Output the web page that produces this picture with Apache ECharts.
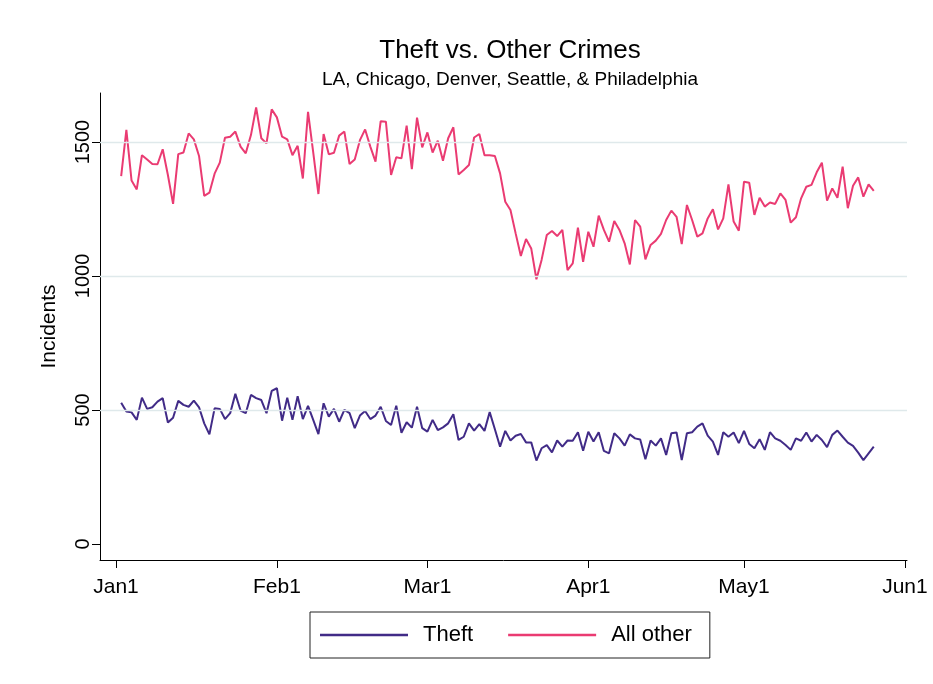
<!DOCTYPE html>
<html>
<head>
<meta charset="utf-8">
<script src="https://cdn.jsdelivr.net/npm/echarts@6/dist/echarts.min.js"></script>
<style>
html,body{margin:0;padding:0;background:#fff;}
#chart{width:933px;height:684px;}
</style>
</head>
<body>
<div id="chart"></div>
<script>
// First data point is Jan 2 (day 1, counting Jan 1 as day 0), daily through May 26
var startDay = 1;
var theft = [527,494,491,463,546,504,510,531,544,453,471,534,519,512,535,510,450,409,506,504,
466,488,560,498,488,556,544,537,488,571,581,460,546,463,551,466,515,463,410,525,
475,504,456,500,488,432,479,496,466,479,512,459,444,516,415,454,434,512,432,419,
463,425,435,450,484,388,400,450,423,447,422,492,428,363,422,386,404,410,379,379,
311,357,369,342,386,363,386,385,417,348,419,382,417,347,338,413,394,367,409,394,
390,316,386,367,394,332,413,416,313,413,417,438,450,404,382,332,417,400,416,376,
422,373,357,391,351,417,394,385,369,351,394,385,416,382,407,388,361,407,423,400,
378,366,341,313,338,363];
var allOther = [1373,1545,1356,1323,1451,1435,1418,1417,1473,1377,1269,1455,1461,1532,1510,1448,1299,1311,1382,1423,
1516,1520,1539,1483,1458,1526,1629,1514,1495,1622,1592,1520,1510,1451,1486,1364,1613,1461,1306,1530,
1454,1460,1524,1539,1418,1435,1507,1547,1483,1427,1578,1576,1377,1443,1439,1561,1399,1591,1480,1536,
1461,1505,1430,1514,1555,1379,1396,1414,1517,1530,1451,1451,1448,1383,1277,1246,1159,1075,1138,1103,
988,1060,1153,1168,1149,1172,1022,1047,1180,1053,1165,1109,1225,1172,1128,1205,1172,1122,1043,1209,
1184,1062,1116,1132,1157,1209,1244,1221,1119,1265,1209,1147,1159,1215,1249,1174,1215,1342,1203,1169,
1352,1348,1228,1292,1259,1274,1269,1308,1284,1199,1219,1290,1333,1340,1387,1423,1281,1327,1292,1408,
1253,1337,1368,1296,1342,1318];
var xTickDays = [0,31,60,91,121,152];
var xTickLabels = ['Jan1','Feb1','Mar1','Apr1','May1','Jun1'];
var yTicks = [0,500,1000,1500];
var gridValues = [500,1000,1500];
var seriesNames = ['Theft','All other'];

function toPairs(arr){ return arr.map(function(v,i){ return [startDay+i, v]; }); }

var chart = echarts.init(document.getElementById('chart'), null, {renderer:'canvas'});
var FONT = 'Liberation Sans, Arial, sans-serif';
chart.setOption({
  animation:false,
  backgroundColor:'#fff',
  title:[
    {text:'Theft vs. Other Crimes', left:505, top:33, textAlign:'center',
     textStyle:{fontFamily:FONT, fontSize:26, fontWeight:'normal', color:'#000'}},
    {text:'LA, Chicago, Denver, Seattle, & Philadelphia', left:505, top:65, textAlign:'center',
     textStyle:{fontFamily:FONT, fontSize:19, fontWeight:'normal', color:'#000'}}
  ],
  grid:{left:100, right:26, top:93, bottom:124, containLabel:false},
  legend:{
    data:seriesNames, left:310, top:612, orient:'horizontal',
    icon:'rect', itemWidth:88, itemHeight:2.5, itemGap:35,
    borderColor:'#222', borderWidth:1, padding:[12,18,12,10],
    textStyle:{fontFamily:FONT, fontSize:22, color:'#000', padding:[0,0,0,10]}
  },
  xAxis:{
    type:'value', min:-3.08, max:152.4,
    axisLine:{show:true, onZero:false, lineStyle:{color:'#000', width:1}},
    axisTick:{show:true, length:8, customValues:xTickDays, lineStyle:{color:'#000'}},
    axisLabel:{customValues:xTickDays, margin:17, fontFamily:FONT, fontSize:21, color:'#000',
      formatter:function(v){ var k = xTickDays.indexOf(Math.round(v)); return k>=0 ? xTickLabels[k] : ''; }},
    splitLine:{show:false}
  },
  yAxis:{
    type:'value', min:-60, max:1683,
    name:'Incidents', nameLocation:'middle', nameGap:40, nameRotate:90,
    nameTextStyle:{fontFamily:FONT, fontSize:21, color:'#000'},
    axisLine:{show:true, onZero:false, lineStyle:{color:'#000', width:1}},
    axisTick:{show:true, length:8, customValues:yTicks, lineStyle:{color:'#000'}},
    axisLabel:{customValues:yTicks, rotate:90, margin:7, fontFamily:FONT, fontSize:20, color:'#000',
      formatter:function(v){ return String(Math.round(v)); }},
    splitLine:{show:false}
  },
  series:[
    {name:'grid', type:'line', data:[], z:0, silent:true,
     markLine:{silent:true, symbol:'none', label:{show:false},
       lineStyle:{color:'#dfe9eb', width:1.3, type:'solid'},
       data:gridValues.map(function(v){ return {yAxis:v}; })}},
    {name:'Theft', type:'line', data:toPairs(theft), showSymbol:false, z:3,
     color:'#412b87', lineStyle:{width:2, color:'#412b87'}},
    {name:'All other', type:'line', data:toPairs(allOther), showSymbol:false, z:3,
     color:'#ea3b72', lineStyle:{width:2, color:'#ea3b72'}}
  ]
});
</script>
</body>
</html>
